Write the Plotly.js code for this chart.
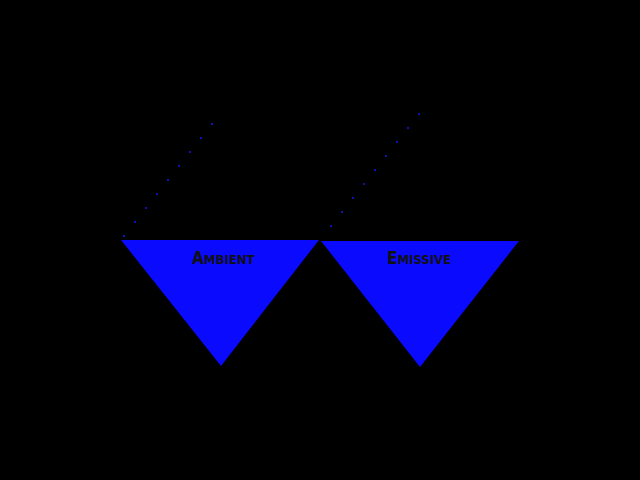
<!DOCTYPE html>
<html>
<head>
<script src="https://cdn.plot.ly/plotly-3.0.1.min.js"></script>
<style>body{margin:0;background:#000}</style>
</head>
<body>
<div id="chart" style="width:640px;height:480px"></div>
<script>
// triangle outlines, screen-like coordinates (y grows downward)
var ambientX = [121, 319, 221, 121];
var ambientY = [240, 240, 366, 240];
var emissiveX = [321, 519, 420, 321];
var emissiveY = [241, 241, 367, 241];

// faint dotted guides
var dotsAX = [124, 135, 146, 157, 168, 179, 190, 201, 212];
var dotsAY = [236, 222, 208, 194, 180, 166, 152, 138, 124];
var dotsEX = [331, 342, 353, 364, 375, 386, 397, 408, 419];
var dotsEY = [226, 212, 198, 184, 170, 156, 142, 128, 114];

var labels = ["A<span style='font-size:13px'>MBIENT</span>", "E<span style='font-size:13px'>MISSIVE</span>"];
var labelX = [223, 419];
var labelY = [258, 258];

var plotData = [
    { x: ambientX, y: ambientY, mode: "lines", fill: "toself", fillcolor: "#0a0aff", line: { width: 0 }, type: "scatter", hoverinfo: "skip" },
    { x: emissiveX, y: emissiveY, mode: "lines", fill: "toself", fillcolor: "#0a0aff", line: { width: 0 }, type: "scatter", hoverinfo: "skip" },
    { x: dotsAX, y: dotsAY, mode: "markers", marker: { size: 2, color: "#1a1ae0" }, type: "scatter" },
    { x: dotsEX, y: dotsEY, mode: "markers", marker: { size: 2, color: "#1a1ae0" }, type: "scatter" }
];

var annotations = labels.map((t, i) => ({
    x: labelX[i], y: labelY[i], text: t, showarrow: false,
    font: { family: "DejaVu Sans Condensed", size: 17, color: "#111111", weight: "bold" }
}));

var layout = {
    width: 640, height: 480,
    margin: { l: 0, r: 0, t: 0, b: 0 },
    paper_bgcolor: "#000", plot_bgcolor: "#000",
    showlegend: false,
    xaxis: { range: [0, 640], visible: false, fixedrange: true },
    yaxis: { range: [480, 0], visible: false, fixedrange: true },
    annotations: annotations
};

Plotly.newPlot("chart", plotData, layout, { displayModeBar: false, staticPlot: true });
</script>
</body>
</html>
